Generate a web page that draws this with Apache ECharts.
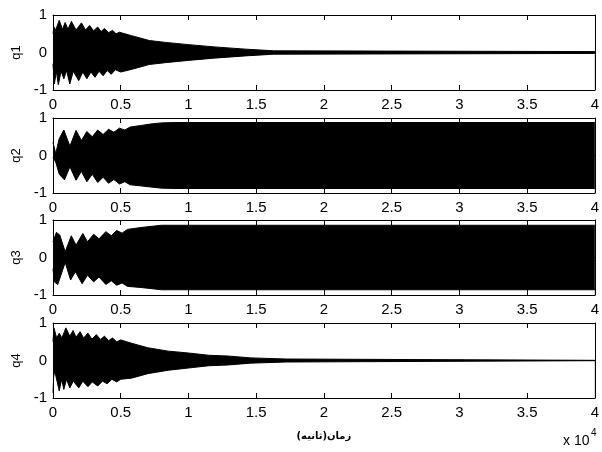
<!DOCTYPE html>
<html>
<head>
<meta charset="utf-8">
<script src="https://cdn.jsdelivr.net/npm/echarts@6/dist/echarts.min.js"></script>
<style>
  html, body { margin: 0; padding: 0; background: #fff; }
  #chart { width: 602px; height: 452px; }
</style>
</head>
<body>
<div id="chart"></div>
<script>
// envelope of each response, [time (s), value]
var q1Upper = [[0,0.5],[70,0.68],[200,0.6],[460,0.86],[700,0.62],[900,0.8],[1100,0.62],[1360,0.83],[1700,0.6],[2100,0.79],[2400,0.6],[2700,0.72],[3000,0.58],[3300,0.68],[3550,0.56],[3800,0.64],[4100,0.53],[4400,0.59],[4650,0.5],[4900,0.54],[5800,0.45],[7100,0.32],[8300,0.27],[10000,0.21],[11900,0.15],[14200,0.09],[14300,0.06],[16300,0.045],[16400,0.025],[40000,0.025]];
var q1Lower = [[0,-0.3],[100,-0.84],[250,-0.5],[390,-0.86],[600,-0.5],[800,-0.7],[1000,-0.48],[1240,-0.84],[1500,-0.5],[1900,-0.75],[2200,-0.52],[2500,-0.7],[2800,-0.52],[3100,-0.66],[3400,-0.5],[3700,-0.62],[4000,-0.48],[4300,-0.58],[4600,-0.46],[5000,-0.52],[5800,-0.45],[7100,-0.32],[8300,-0.27],[10000,-0.21],[11900,-0.15],[14200,-0.09],[14300,-0.06],[16300,-0.045],[16400,-0.025],[40000,-0.025]];

var q2Upper = [[0,0.35],[100,0.3],[200,0.05],[460,0.45],[800,0.68],[1250,0.25],[1700,0.67],[2100,0.4],[2500,0.64],[2900,0.5],[3300,0.68],[3700,0.56],[4100,0.7],[4500,0.62],[4900,0.73],[5300,0.68],[5700,0.76],[6500,0.8],[7200,0.84],[8000,0.87],[9000,0.88],[40000,0.88]];
var q2Lower = [[0,-0.05],[100,-0.1],[200,-0.17],[460,-0.5],[850,-0.65],[1250,-0.3],[1700,-0.66],[2100,-0.42],[2500,-0.7],[2900,-0.5],[3300,-0.72],[3700,-0.58],[4100,-0.74],[4500,-0.64],[4900,-0.76],[5300,-0.7],[5700,-0.78],[6500,-0.81],[7200,-0.84],[8000,-0.87],[9000,-0.88],[40000,-0.88]];

var q3Upper = [[0,0.42],[250,0.67],[500,0.6],[900,0.15],[1350,0.58],[1700,0.33],[2200,0.64],[2550,0.42],[3000,0.62],[3400,0.5],[3900,0.69],[4300,0.58],[4700,0.72],[5100,0.65],[5500,0.75],[6500,0.8],[7500,0.84],[8000,0.86],[40000,0.86]];
var q3Lower = [[0,-0.3],[100,-0.65],[350,-0.72],[900,-0.13],[1300,-0.6],[1650,-0.38],[2150,-0.7],[2550,-0.47],[3000,-0.65],[3400,-0.52],[3900,-0.72],[4300,-0.62],[4700,-0.74],[5100,-0.68],[5500,-0.77],[6500,-0.8],[7500,-0.84],[8000,-0.86],[40000,-0.86]];

var q4Upper = [[0,0.5],[70,0.87],[270,0.6],[460,0.73],[660,0.6],[950,0.87],[1240,0.65],[1480,0.8],[1700,0.62],[2000,0.77],[2260,0.6],[2580,0.73],[2870,0.57],[3200,0.69],[3500,0.56],[3800,0.65],[4100,0.53],[4400,0.6],[4700,0.5],[5000,0.55],[5800,0.46],[7000,0.34],[8500,0.25],[10000,0.2],[11500,0.14],[12900,0.12],[13000,0.09],[14600,0.07],[14700,0.05],[17200,0.04],[17300,0.005],[40000,0.005]];
var q4Lower = [[0,-0.86],[50,-0.42],[130,-0.28],[460,-0.81],[640,-0.5],[800,-0.77],[1000,-0.5],[1240,-0.73],[1500,-0.55],[1900,-0.73],[2200,-0.55],[2580,-0.7],[2900,-0.57],[3300,-0.68],[3650,-0.55],[4000,-0.62],[4350,-0.5],[4700,-0.57],[5000,-0.5],[5800,-0.47],[7000,-0.35],[8500,-0.26],[10000,-0.2],[11500,-0.14],[12900,-0.12],[13000,-0.09],[14600,-0.07],[14700,-0.05],[17200,-0.04],[17300,-0.005],[40000,-0.005]];

var panelNames = ["q1", "q2", "q3", "q4"];
var upperSets = [q1Upper, q2Upper, q3Upper, q4Upper];
var lowerSets = [q1Lower, q2Lower, q3Lower, q4Lower];
var xLabel = "زمان(ثانیه)";

var gridTops = [15, 118, 220, 323];
var font = "Liberation Sans, Arial, sans-serif";

var chart = echarts.init(document.getElementById("chart"));

var grids = [], xAxes = [], yAxes = [], series = [];
for (var i = 0; i < 4; i++) {
  grids.push({ left: 53, right: 2, top: gridTops[i], height: 75 });

  var axisLine = { show: true, onZero: false, lineStyle: { color: "#000", width: 1 } };
  var tick = { show: true, inside: true, length: 5, lineStyle: { color: "#000" } };
  // bottom x axis with labels
  xAxes.push({
    type: "value", gridIndex: i, position: "bottom", z: 5,
    min: 0, max: 40000, interval: 5000,
    axisLine: axisLine, axisTick: tick, splitLine: { show: false },
    axisLabel: {
      color: "#000", fontSize: 15, fontFamily: font, margin: 7,
      formatter: function (v) { return String(v / 10000); }
    },
    name: i === 3 ? xLabel : "",
    nameLocation: "middle", nameGap: 33,
    nameTextStyle: { color: "#000", fontSize: 10, fontWeight: "bold", fontFamily: "DejaVu Sans" }
  });
  // top x axis, box with ticks only
  xAxes.push({
    type: "value", gridIndex: i, position: "top", z: 5,
    min: 0, max: 40000, interval: 5000,
    axisLine: axisLine, axisTick: tick, splitLine: { show: false },
    axisLabel: { show: false }
  });
  yAxes.push({
    type: "value", gridIndex: i, position: "left", z: 5,
    min: -1, max: 1, interval: 1,
    axisLine: axisLine, axisTick: tick, splitLine: { show: false },
    axisLabel: { color: "#000", fontSize: 15, fontFamily: font, margin: 6 },
    name: panelNames[i], nameLocation: "middle", nameGap: 24, nameRotate: 90,
    nameTextStyle: { color: "#000", fontSize: 13, fontFamily: font }
  });
  yAxes.push({
    type: "value", gridIndex: i, position: "right", z: 5,
    min: -1, max: 1, interval: 1,
    axisLine: axisLine, axisTick: tick, splitLine: { show: false },
    axisLabel: { show: false }
  });

  // upper envelope filled black down to the axis bottom,
  // then everything below the lower envelope painted back to white
  series.push({
    type: "line", xAxisIndex: i * 2, yAxisIndex: i * 2,
    data: upperSets[i], showSymbol: false, silent: true, animation: false,
    lineStyle: { color: "#000", width: 1 },
    areaStyle: { color: "#000", opacity: 1, origin: "start" }
  });
  series.push({
    type: "line", xAxisIndex: i * 2, yAxisIndex: i * 2,
    data: lowerSets[i], showSymbol: false, silent: true, animation: false,
    lineStyle: { color: "#000", width: 1 },
    areaStyle: { color: "#fff", opacity: 1, origin: "start" }
  });
}

chart.setOption({
  backgroundColor: "#fff",
  grid: grids,
  xAxis: xAxes,
  yAxis: yAxes,
  series: series,
  graphic: [
    { type: "text", left: 563, top: 434, style: { text: "x 10", fill: "#000", fontSize: 14, fontFamily: font } },
    { type: "text", left: 591, top: 428, style: { text: "4", fill: "#000", fontSize: 10, fontFamily: font } }
  ]
});
</script>
</body>
</html>
